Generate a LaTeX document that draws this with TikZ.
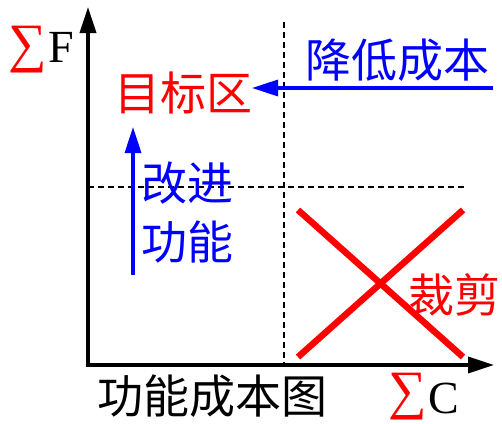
\documentclass[tikz,border=0pt]{standalone}
\usepackage{fontspec}
\setmainfont{Liberation Serif}
\newfontfamily\cjk{Noto Sans CJK SC}
\usetikzlibrary{arrows.meta}
\definecolor{myred}{RGB}{255,0,0}
\definecolor{myblue}{RGB}{0,0,255}
\tikzset{
  axis/.style={line width=3.5pt,-{Triangle[length=26pt,width=16pt]}},
  bluearrow/.style={myblue,line width=3.3pt,-{Triangle[length=26pt,width=16pt]}},
  guide/.style={line width=1.4pt,dash pattern=on 6pt off 4pt},
  cross/.style={myred,line width=6.5pt},
  cjklabel/.style={inner sep=0pt,font=\cjk\fontsize{46}{50}\selectfont},
  latlabel/.style={inner sep=0pt,font=\fontsize{46}{50}\selectfont},
  sigmalabel/.style={inner sep=0pt,text=myred,font=\fontsize{54}{56}\selectfont},
}
\begin{document}
\begin{tikzpicture}[x=1pt,y=-1pt]
\useasboundingbox (0,0) rectangle (502,423);
% coordinates
\coordinate (O) at (88,365);
\coordinate (ytip) at (88,7);
\coordinate (xtip) at (494,365);
\coordinate (vtop) at (284,22);
\coordinate (vbot) at (284,365);
\coordinate (hl) at (88,187);
\coordinate (hr) at (467,187);
\coordinate (bstart) at (493,88);
\coordinate (bend) at (252,88);
\coordinate (ustart) at (133,275);
\coordinate (uend) at (133,127);
\coordinate (xa) at (298,210);
\coordinate (xb) at (463,357);
\coordinate (xc) at (298,357);
\coordinate (xd) at (463,210);
% dashed guides
\draw[guide] (vtop) -- (vbot);
\draw[guide] (hl) -- (hr);
% axes
\draw[axis] ([yshift=1.75pt]O) -- (ytip);
\draw[axis] ([xshift=-1.75pt]O) -- (xtip);
% blue arrows
\draw[bluearrow] (bstart) -- (bend);
\draw[bluearrow] (ustart) -- (uend);
% red cross
\draw[cross] (xa) -- (xb);
\draw[cross] (xc) -- (xd);
% labels
\node[sigmalabel,anchor=east] (sigF) at (47,50) {∑};
\node[latlabel,anchor=base west] (F) at (48,62) {F};
\node[cjklabel,text=myred] (target) at (183,93) {目标区};
\node[cjklabel,text=myblue] (reduce) at (397,60) {降低成本};
\node[cjklabel,text=myblue] (imp1) at (187,183) {改进};
\node[cjklabel,text=myblue] (imp2) at (187,242) {功能};
\node[cjklabel,text=myred] (cut) at (454,295) {裁剪};
\node[cjklabel] (title) at (212,396) {功能成本图};
\node[sigmalabel,anchor=east] (sigC) at (427,397) {∑};
\node[latlabel,anchor=base west] (C) at (428,413) {C};
\end{tikzpicture}
\end{document}
